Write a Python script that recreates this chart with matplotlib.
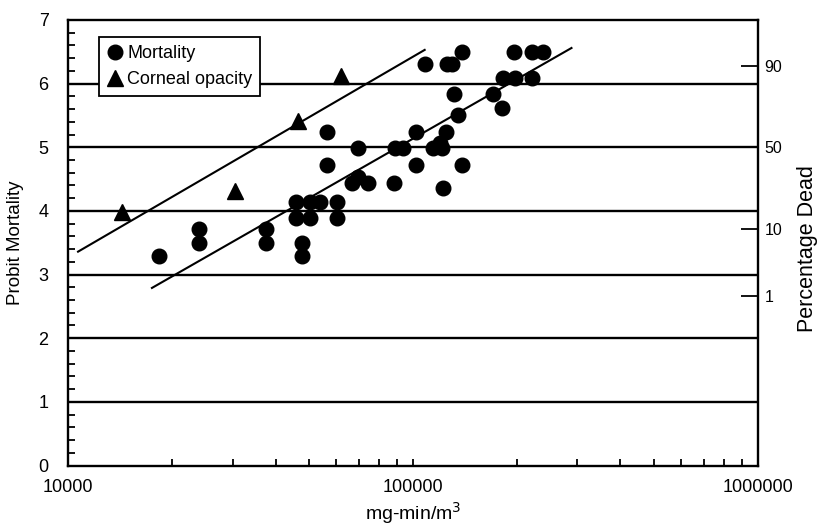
import numpy as np
import matplotlib
matplotlib.use('Agg')
import matplotlib.pyplot as plt
from matplotlib import ticker

plt.rcParams['font.family'] = ['Liberation Sans', 'DejaVu Sans']

# mortality data (dose in mg-min/m3, probit)
mort_x = [18350, 23970, 23970, 37480, 37480, 45760, 50230, 53700, 60140, 45760,
          50230, 60140, 47640, 47640, 56270, 56270, 69190, 66480, 69190, 73960,
          87960, 88550, 93370, 101900, 101900, 108200, 125300, 129500, 138500, 131300,
          134800, 124400, 114100, 119600, 121200, 122000, 138500, 170300, 180800, 182000,
          197200, 222300, 195900, 222300, 237700]
mort_y = [3.29, 3.72, 3.50, 3.72, 3.50, 4.14, 4.14, 4.14, 4.14, 3.89,
          3.89, 3.89, 3.50, 3.29, 5.24, 4.72, 4.99, 4.44, 4.54, 4.44,
          4.44, 4.99, 4.99, 5.24, 4.72, 6.31, 6.31, 6.31, 6.49, 5.83,
          5.50, 5.24, 4.99, 5.07, 4.99, 4.36, 4.72, 5.83, 5.61, 6.09,
          6.09, 6.09, 6.49, 6.49, 6.49]

# corneal opacity data
corn_x = [14340, 30460, 46380, 61800]
corn_y = [3.99, 4.32, 5.42, 6.12]

# fitted lines (end points)
corn_fit_x = [10690, 108200]
corn_fit_y = [3.36, 6.53]
mort_fit_x = [17510, 288400]
mort_fit_y = [2.79, 6.56]

# right axis: percentage dead
pct_labels = ['90', '50', '10', '1']
pct_probit = [6.28, 5.0, 3.72, 2.67]

fig = plt.figure(figsize=(8.2, 5.26), dpi=100)
ax = fig.add_axes([0.083, 0.115, 0.841, 0.847])

for yv in range(1, 7):
    ax.axhline(yv, color='black', linewidth=1.7, zorder=1)

ax.plot(corn_fit_x, corn_fit_y, color='black', linewidth=1.5, zorder=2)
ax.plot(mort_fit_x, mort_fit_y, color='black', linewidth=1.5, zorder=2)

ax.plot(mort_x, mort_y, 'o', color='black', markersize=10.5, linestyle='none',
        label='Mortality', zorder=3)
ax.plot(corn_x, corn_y, '^', color='black', markersize=11.5, linestyle='none',
        label='Corneal opacity', zorder=3)

ax.set_xscale('log')
ax.set_xlim(10000, 1000000)
ax.set_ylim(0, 7)

ax.xaxis.set_major_locator(ticker.FixedLocator([1e4, 1e5, 1e6]))
ax.xaxis.set_major_formatter(ticker.FixedFormatter(['10000', '100000', '1000000']))
ax.xaxis.set_minor_locator(ticker.LogLocator(base=10, subs=np.arange(2, 10)))
ax.xaxis.set_minor_formatter(ticker.NullFormatter())
ax.yaxis.set_major_locator(ticker.MultipleLocator(1))
ax.yaxis.set_minor_locator(ticker.MultipleLocator(0.2))

ax.tick_params(which='both', direction='in', labelsize=13, width=1.3, length=5)
ax.tick_params(axis='x', pad=10)
ax.tick_params(axis='y', pad=14)
for s in ax.spines.values():
    s.set_linewidth(1.7)

ax.set_xlabel('mg-min/m$^3$', fontsize=14, labelpad=3)
ax.set_ylabel('Probit Mortality', fontsize=13.5)
ax.yaxis.set_label_coords(-0.064, 0.5)

leg = ax.legend(loc='upper left', bbox_to_anchor=(0.04, 0.97), fontsize=13,
                frameon=True, fancybox=False, edgecolor='black',
                handlelength=0.8, handletextpad=0.3, borderpad=0.45,
                labelspacing=0.5, borderaxespad=0.2)
leg.get_frame().set_linewidth(1.3)
leg.get_frame().set_alpha(1)

ax2 = ax.twinx()
ax2.set_ylim(0, 7)
ax2.set_yticks(pct_probit)
ax2.set_yticklabels(pct_labels)
ax2.tick_params(axis='y', direction='in', length=12, width=1.3, labelsize=11.5, pad=5)
for s in ax2.spines.values():
    s.set_visible(False)
fig.text(0.985, 0.527, 'Percentage Dead', rotation=90, fontsize=15.5,
         ha='center', va='center')

fig.savefig('out.png', dpi=100)
